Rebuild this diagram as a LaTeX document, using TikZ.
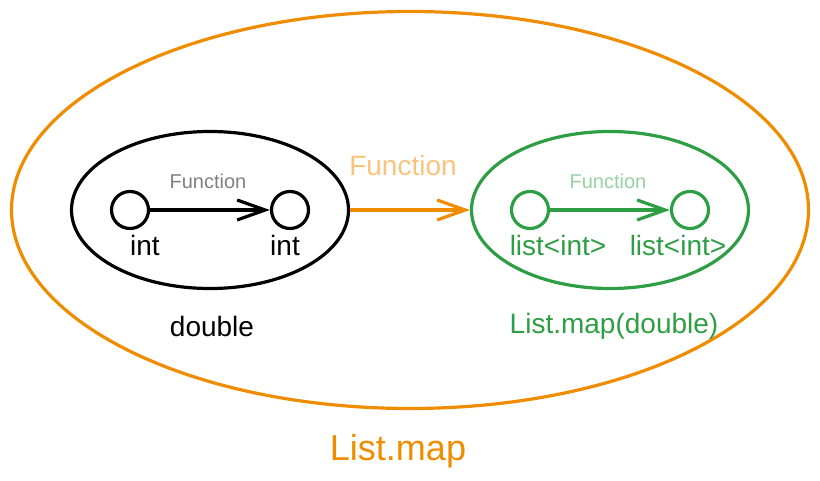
\documentclass[tikz,border=0pt]{standalone}
\usepackage{fontspec}
\setmainfont{Liberation Sans}
\usetikzlibrary{shapes.geometric,arrows.meta}
\definecolor{orng}{RGB}{240,140,0}
\definecolor{lorng}{RGB}{250,195,125}
\definecolor{grn}{RGB}{46,158,68}
\definecolor{lgrn}{RGB}{150,210,160}
\definecolor{gry}{RGB}{128,128,128}
\tikzset{
  oval/.style={ellipse,draw,line width=3.2pt,inner sep=0pt},
  dot/.style={circle,draw,line width=3.2pt,inner sep=0pt,minimum size=37pt},
  arr/.style={line width=3.2pt,-{Straight Barb[length=28pt,width=20pt,line width=3.2pt]}},
  lbl/.style={inner sep=0pt,anchor=center},
  big/.style={font=\fontsize{28}{32}\selectfont},
  small/.style={font=\fontsize{20}{24}\selectfont},
}
\begin{document}
\begin{tikzpicture}[x=1pt,y=-1pt]
\useasboundingbox (0,0) rectangle (820,481);
\node[oval,orng,minimum width=797pt,minimum height=397pt] (big) at (410,210) {};
\node[oval,black,minimum width=277pt,minimum height=157pt] (left) at (210,210) {};
\node[oval,grn,minimum width=277pt,minimum height=157pt] (right) at (610,210) {};
\node[dot,black] (a1) at (130,210) {};
\node[dot,black] (a2) at (290,210) {};
\node[dot,grn] (b1) at (530,210) {};
\node[dot,grn] (b2) at (690,210) {};
\draw[arr,black] (a1) -- (a2);
\draw[arr,grn] (b1) -- (b2);
\draw[arr,orng] (left) -- (right);
\node[lbl,gry,small] (f1) at (208,181) {Function};
\node[lbl,lgrn,small] (f2) at (608,181) {Function};
\node[lbl,lorng,big] (f3) at (403,165) {Function};
\node[lbl,black,big] (t1) at (145,245) {int};
\node[lbl,black,big] (t2) at (285,245) {int};
\node[lbl,grn,big] (t3) at (558,245) {list<int>};
\node[lbl,grn,big] (t4) at (678,245) {list<int>};
\node[lbl,black,big] (d1) at (212,326) {double};
\node[lbl,grn,big] (d2) at (614,326) {List.map(double)};
\node[lbl,orng,font=\fontsize{36}{40}\selectfont] (d3) at (398,451) {List.map};
\end{tikzpicture}
\end{document}
